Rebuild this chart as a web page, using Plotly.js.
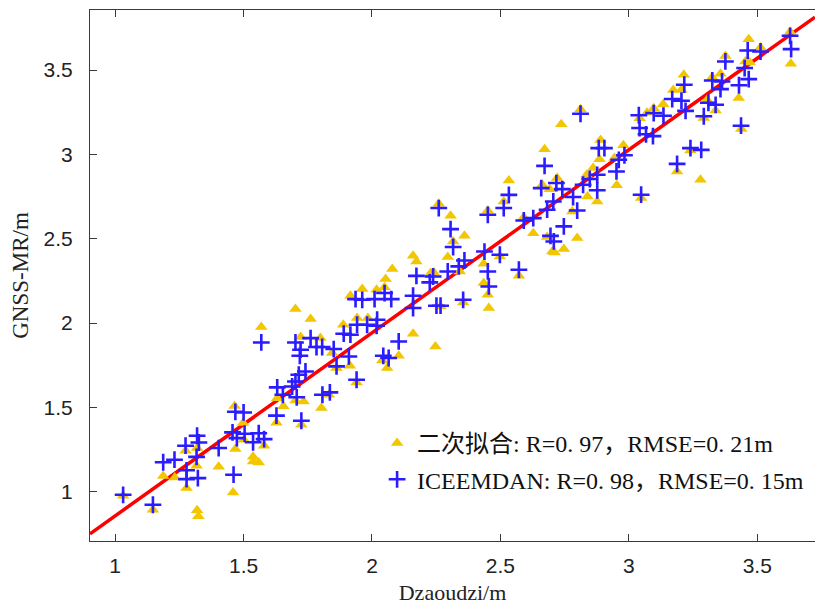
<!DOCTYPE html>
<html>
<head>
<meta charset="utf-8">
<script src="https://cdn.plot.ly/plotly-3.0.1.min.js"></script>
<style>html,body{margin:0;padding:0;background:#fff;}#chart{width:815px;height:611px;}</style>
</head>
<body>
<div id="chart"></div>
<script>
// 二次拟合 (quadratic fit) series: Dzaoudzi vs GNSS-MR
const quadX = [1.031,1.147,1.187,1.232,1.274,1.278,1.319,1.317,1.319,1.324,1.403,1.459,1.468,1.465,1.498,1.537,1.537,1.559,1.580,1.501,1.628,1.655,1.631,1.702,1.734,1.725,1.803,
  1.569,1.702,1.761,1.722,1.799,1.845,1.888,1.914,1.862,1.916,1.962,2.018,2.053,2.079,2.049,1.942,1.984,2.160,2.173,2.160,2.104,2.059,2.040,1.940,1.832,
  2.260,2.306,2.360,2.316,2.295,2.228,2.241,2.342,2.435,2.435,2.451,2.455,2.355,2.267,2.247,2.451,2.513,2.533,2.498,2.572,2.591,2.628,2.672,2.663,2.721,2.692,2.702,2.711,2.747,2.682,
  2.812,2.737,3.214,3.173,3.134,3.097,3.071,3.042,2.890,2.886,2.979,2.944,2.953,2.877,2.839,2.861,2.780,2.799,3.188,3.048,3.279,
  3.467,3.513,3.376,3.454,3.471,3.631,3.205,3.325,3.357,3.428,3.338,3.305,3.292,3.438,3.240,3.628,2.836];
const quadY = [0.976,0.893,1.093,1.085,1.243,1.022,1.259,1.154,0.890,0.855,1.148,0.996,1.253,1.508,1.407,1.207,1.180,1.174,1.273,1.308,1.409,1.507,1.555,1.541,1.535,1.397,1.496,
  1.976,2.083,2.024,1.917,1.911,1.822,1.990,1.747,1.733,2.162,2.202,2.197,2.261,2.320,2.213,2.030,2.030,2.399,2.365,1.937,1.806,1.733,1.778,1.648,1.575,
  2.707,2.636,2.517,2.484,2.391,2.296,2.300,2.306,2.352,2.237,2.168,2.089,2.122,2.098,1.861,2.667,2.721,2.845,2.395,2.280,2.628,2.533,3.031,2.820,2.860,2.794,2.424,2.418,2.439,2.510,
  3.267,3.178,3.472,3.381,3.297,3.274,3.247,3.214,3.085,2.971,3.054,2.978,2.817,2.721,2.750,2.919,2.662,2.504,2.899,2.741,2.849,
  3.683,3.633,3.584,3.551,3.545,3.537,3.383,3.458,3.478,3.334,3.260,3.324,3.215,3.150,3.023,3.727,2.879];

// ICEEMDAN series
const iceX = [1.031,1.147,1.187,1.231,1.274,1.319,1.326,1.317,1.278,1.278,1.322,1.403,1.461,1.457,1.468,1.500,1.474,1.504,1.537,1.559,1.580,1.628,1.631,1.653,1.689,1.707,1.725,1.807,1.836,1.940,
  1.569,1.702,1.722,1.719,1.761,1.784,1.806,1.851,1.890,1.916,1.910,1.862,1.741,1.715,1.702,1.936,1.962,2.010,2.049,2.075,1.942,1.981,2.020,2.018,2.104,2.044,2.065,2.160,2.160,2.173,
  2.260,2.306,2.316,2.360,2.338,2.295,2.238,2.225,2.251,2.267,2.355,2.438,2.451,2.455,2.498,2.572,2.451,2.513,2.533,2.591,2.628,2.672,2.659,2.718,2.741,2.706,2.682,2.695,2.708,2.747,
  2.812,3.039,3.097,3.135,3.042,3.067,3.094,3.169,3.205,3.216,3.221,3.240,3.188,3.048,2.983,2.961,2.952,2.883,2.905,2.877,2.848,2.822,2.877,2.783,2.799,
  3.628,3.632,3.463,3.513,3.376,3.451,3.467,3.429,3.325,3.363,3.357,3.310,3.338,3.292,3.437,3.282];
const iceY = [0.982,0.923,1.175,1.190,1.273,1.332,1.292,1.207,1.127,1.075,1.081,1.259,1.101,1.352,1.474,1.470,1.318,1.344,1.293,1.347,1.312,1.451,1.619,1.575,1.624,1.560,1.421,1.575,1.589,1.664,
  1.885,1.885,1.842,1.806,1.911,1.858,1.858,1.846,1.937,1.931,1.802,1.743,1.713,1.694,1.654,2.142,2.138,2.142,2.178,2.142,1.990,1.990,2.020,1.984,1.891,1.806,1.793,2.162,2.089,2.280,
  2.682,2.557,2.451,2.371,2.336,2.306,2.276,2.241,2.103,2.103,2.138,2.424,2.306,2.217,2.405,2.316,2.642,2.682,2.760,2.608,2.622,2.932,2.800,2.830,2.794,2.721,2.672,2.517,2.484,2.573,
  3.241,3.232,3.245,3.229,3.156,3.119,3.108,3.328,3.318,3.413,3.258,3.037,2.944,2.761,2.995,2.968,2.899,3.037,3.037,2.879,2.854,2.820,2.787,2.747,2.667,
  3.703,3.624,3.616,3.610,3.551,3.512,3.446,3.410,3.438,3.432,3.387,3.306,3.294,3.226,3.170,3.027];

// Fitted reference line y = slope*x + intercept
const fitSlope = 1.085;
const fitIntercept = -0.228;

const xRange = [0.902, 3.725];
const yRange = [0.708, 3.856];
const xTicks = [1, 1.5, 2, 2.5, 3, 3.5];
const xTickText = ['1', '1.5', '2', '2.5', '3', '3.5'];
const yTicks = [1, 1.5, 2, 2.5, 3, 3.5];
const yTickText = ['1', '1.5', '2', '2.5', '3', '3.5'];

const legendQuad = '二次拟合: R=0. 97，RMSE=0. 21m';
const legendIce = 'ICEEMDAN: R=0. 98，RMSE=0. 15m';

const lineX = xRange.slice();
const lineY = lineX.map(v => fitSlope * v + fitIntercept);

const traces = [
  {x: lineX, y: lineY, mode: 'lines', line: {color: '#ff0000', width: 3.5}, showlegend: false, hoverinfo: 'skip', cliponaxis: true},
  {x: quadX, y: quadY, mode: 'markers', name: legendQuad, legendgroup: 'a',
   marker: {symbol: 'triangle-up', size: 11, color: '#f2c600', line: {width: 0}}},
  {x: iceX, y: iceY, mode: 'markers', name: legendIce, legendgroup: 'b',
   marker: {symbol: 'cross-thin', size: 12, color: '#2b1cff', line: {color: '#2b1cff', width: 2.6}}}
];

const axisCommon = {
  showgrid: false, zeroline: false, showline: true, linecolor: '#3a3a3a', linewidth: 1,
  ticks: 'inside', ticklen: 7, tickwidth: 1, tickcolor: '#3a3a3a',
  tickfont: {family: 'Liberation Sans, Arial, sans-serif', size: 21, color: '#222'}
};

const layout = {
  width: 815, height: 611,
  margin: {l: 90, r: 0, t: 10, b: 70},
  paper_bgcolor: '#ffffff', plot_bgcolor: '#ffffff',
  showlegend: true,
  legend: {
    x: 0.396, y: 0.226, xanchor: 'left', yanchor: 'top',
    bgcolor: 'rgba(0,0,0,0)', borderwidth: 0,
    traceorder: 'grouped', tracegroupgap: 2,
    font: {family: 'Liberation Serif, Times New Roman, Noto Sans CJK SC, serif', size: 24, color: '#111'}
  },
  xaxis: Object.assign({}, axisCommon, {
    range: xRange, tickmode: 'array', tickvals: xTicks, ticktext: xTickText,
    mirror: 'ticks', ticklabelstandoff: 6,
    title: {text: 'Dzaoudzi/m', font: {family: 'Liberation Serif, Times New Roman, serif', size: 22, color: '#222'}, standoff: 8}
  }),
  yaxis: Object.assign({}, axisCommon, {
    range: yRange, tickmode: 'array', tickvals: yTicks, ticktext: yTickText,
    mirror: false, ticklabelstandoff: 12,
    title: {text: 'GNSS-MR/m', font: {family: 'Liberation Serif, Times New Roman, serif', size: 23, color: '#222'}, standoff: 8}
  })
};

Plotly.newPlot('chart', traces, layout, {displayModeBar: false, staticPlot: true});
</script>
</body>
</html>
